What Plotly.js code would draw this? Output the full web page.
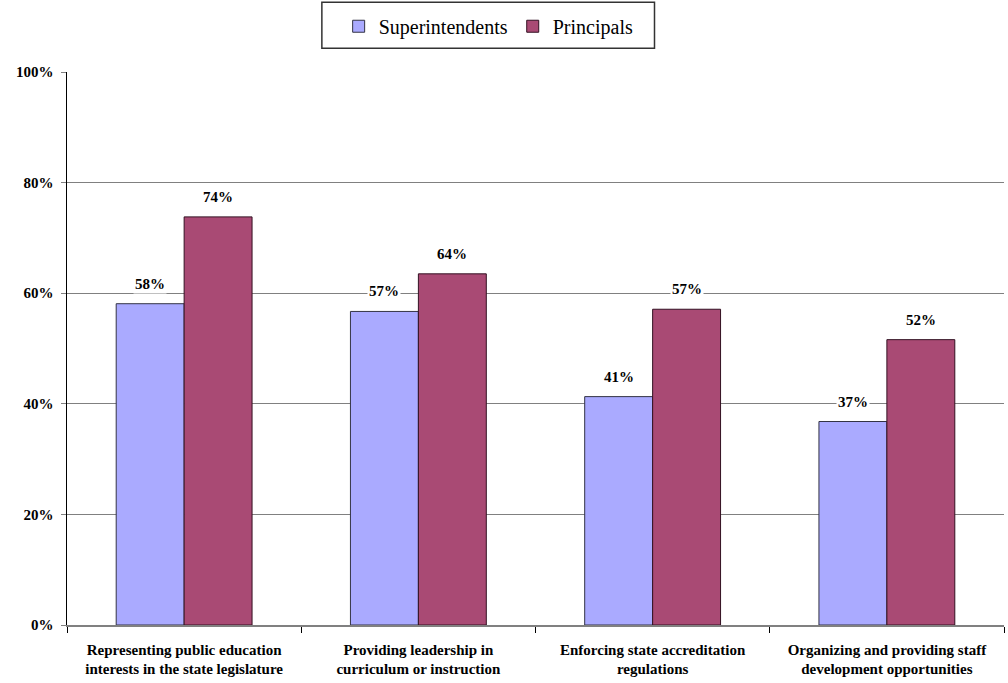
<!DOCTYPE html>
<html>
<head>
<meta charset="utf-8">
<script src="https://cdn.plot.ly/plotly-3.0.1.min.js"></script>
<style>
html,body{margin:0;padding:0;background:#fff;}
#chart{width:1008px;height:683px;}
</style>
</head>
<body>
<div id="chart"></div>
<script>
const categories = [
  "Representing public education<br>interests in the state legislature",
  "Providing leadership in<br>curriculum or instruction",
  "Enforcing state accreditation<br>regulations",
  "Organizing and providing staff<br>development opportunities"
];
const superintendents = [58.1, 56.7, 41.3, 36.8];
const principals = [73.8, 63.5, 57.1, 51.6];
const seriesNames = ["Superintendents", "Principals"];
const tickValues = [0, 20, 40, 60, 80, 100];
const tickLabels = ["0%", "20%", "40%", "60%", "80%", "100%"];

const colors = ["#aaaaff", "#a94a74"];

const traces = [
  {type: "bar", name: seriesNames[0], x: categories, y: superintendents,
   marker: {color: colors[0], line: {color: "#333344", width: 1}}},
  {type: "bar", name: seriesNames[1], x: categories, y: principals,
   marker: {color: colors[1], line: {color: "#331122", width: 1}}}
];

const annotations = [];
[superintendents, principals].forEach((vals, s) => {
  vals.forEach((v, i) => {
    annotations.push({
      x: categories[i], y: v, xref: "x", yref: "y",
      text: "<b>" + Math.round(v) + "%</b>", showarrow: false,
      xshift: s === 0 ? -34 : 34, yanchor: "bottom", yshift: 10,
      bgcolor: "#ffffff", borderpad: 1,
      font: {family: "Liberation Serif", size: 15, color: "#000"}
    });
  });
});

const layout = {
  width: 1008, height: 683,
  margin: {l: 67, r: 4, t: 72, b: 58, autoexpand: false},
  barmode: "group", bargap: 0.42,
  legend: {orientation: "h", x: 0.45, xanchor: "center", y: 1.118, yanchor: "top",
    font: {family: "Liberation Serif", size: 20, color: "#000"}},
  shapes: [{type: "rect", xref: "paper", yref: "paper",
    x0: 0.272, x1: 0.627, y0: 1.043, y1: 1.126,
    line: {color: "#333333", width: 1.5}, fillcolor: "rgba(0,0,0,0)", layer: "below"}],
  xaxis: {type: "category", tickson: "boundaries", ticks: "outside", ticklen: 6,
    tickcolor: "#000", showline: true, linecolor: "#808080", linewidth: 1.5,
    showgrid: false, ticklabelstandoff: 10,
    tickvals: categories,
    ticktext: categories.map(c => "<b>" + c.replace("<br>", "</b><br><b>") + "</b>"),
    tickfont: {family: "serif", size: 15, color: "#000"}},
  yaxis: {range: [0, 100], tickvals: tickValues,
    ticktext: tickLabels.map(t => "<b>" + t + "</b>"),
    showgrid: true, gridcolor: "#808080", gridwidth: 1.2,
    showline: true, linecolor: "#000", linewidth: 1.5,
    ticks: "outside", ticklen: 5, tickcolor: "#808080", zeroline: false,
    ticklabelstandoff: 4,
    tickfont: {family: "serif", size: 15, color: "#000"}},
  annotations: annotations
};

Plotly.newPlot("chart", traces, layout, {displayModeBar: false, staticPlot: true});
</script>
</body>
</html>
